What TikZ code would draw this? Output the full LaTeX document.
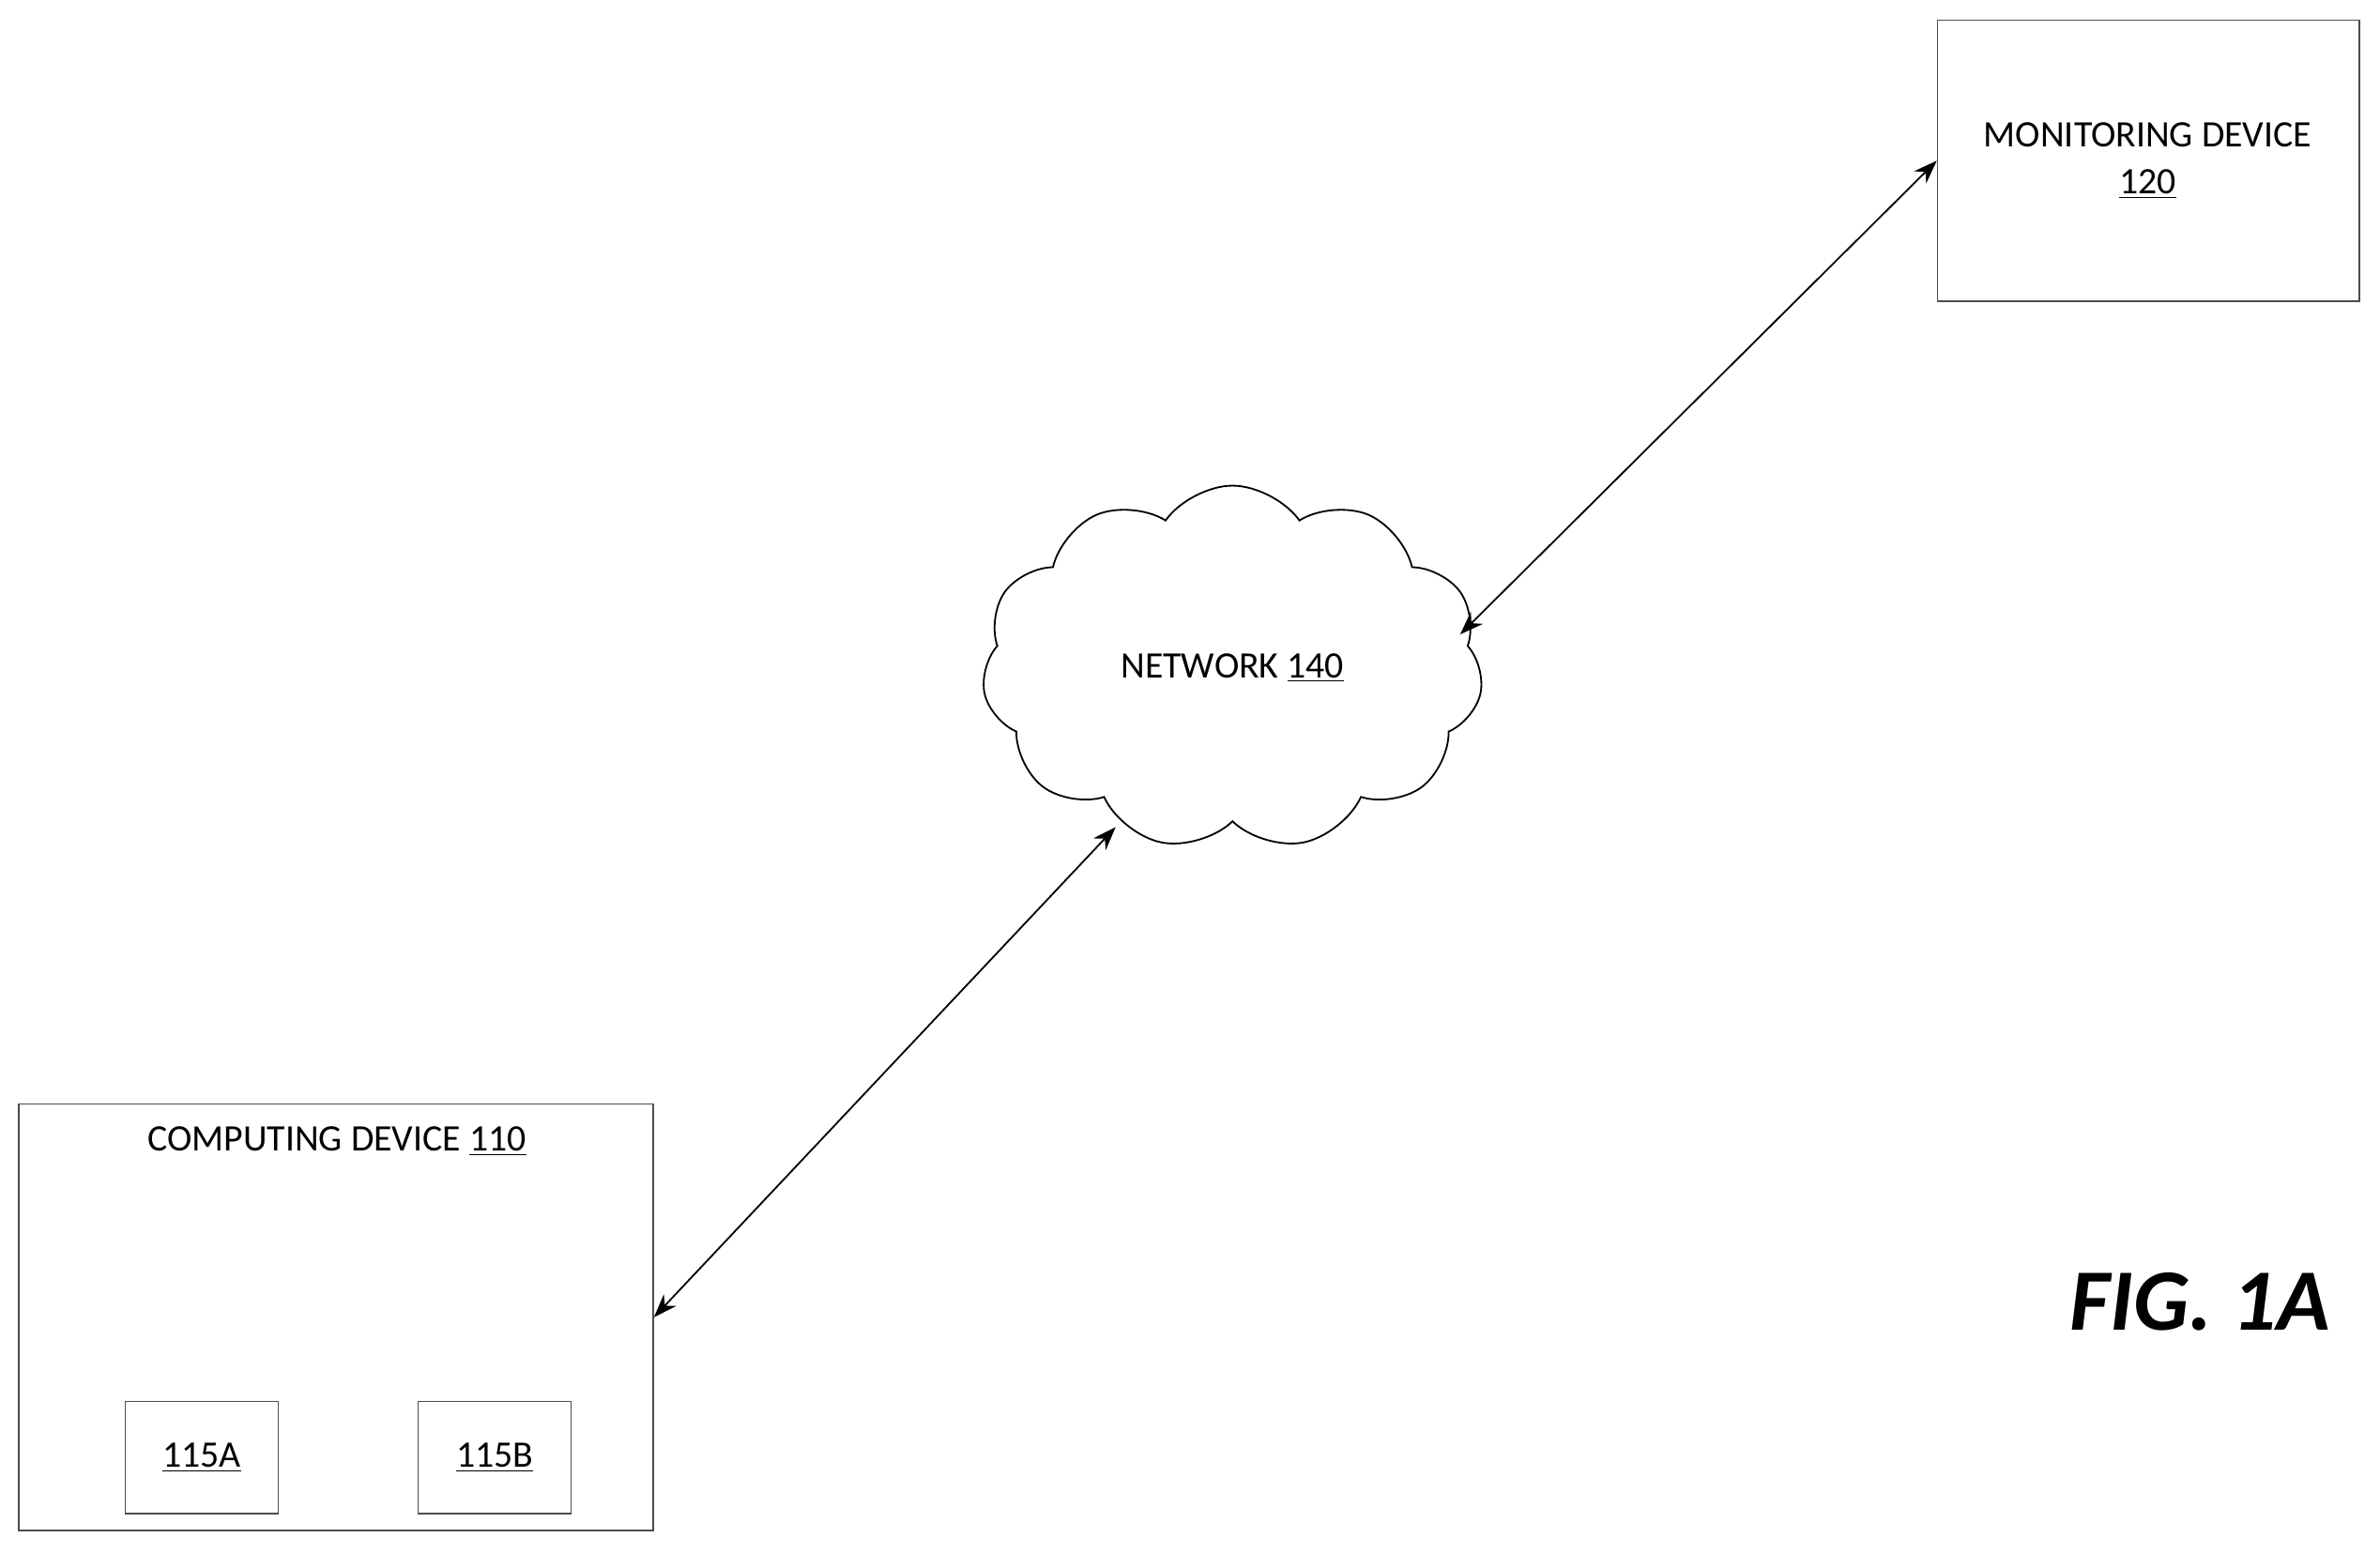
\documentclass[tikz,border=0pt]{standalone}
\usepackage{fontspec}
\setmainfont{Carlito}
\usetikzlibrary{positioning, arrows.meta, shapes.symbols}

\begin{document}
\begin{tikzpicture}[
    x=0.025cm, y=-0.025cm,
    font=\fontsize{17.5}{22}\selectfont,
    box/.style={ % plain device box
        rectangle,
        draw=black!70,
        line width=0.6pt,
        anchor=north west,
        inner sep=0pt
    },
    arrow/.style={
        {Stealth[length=11pt,width=8pt]}-{Stealth[length=11pt,width=8pt]},
        line width=0.8pt
    }
]
\useasboundingbox (0,0) rectangle (1568,1023);

% Monitoring device
\node[box, minimum width=278*0.025cm, minimum height=185*0.025cm] (mon) at (1276,13) {};
\node[align=center] (monlbl) at (1415,106) {MONITORING DEVICE\\\underline{120}};

% Network cloud
\node[cloud, cloud puffs=11, cloud puff arc=110, aspect=1.45, draw=black, line width=0.8pt,
      minimum width=330*0.025cm, minimum height=240*0.025cm] (net) at (812,440) {NETWORK \underline{140}};
\coordinate (netne) at (962,418);
\coordinate (netsw) at (735,545);

% Computing device
\node[box, minimum width=418*0.025cm, minimum height=281*0.025cm] (comp) at (12,727) {};
\node (complbl) at (222,752) {COMPUTING DEVICE \underline{110}};
\node[box, minimum width=101*0.025cm, minimum height=74*0.025cm] (subA) at (82,923) {};
\node (lblA) at (subA.center) {\underline{115A}};
\node[box, minimum width=101*0.025cm, minimum height=74*0.025cm] (subB) at (275,923) {};
\node (lblB) at (subB.center) {\underline{115B}};

% Links
\draw[arrow] (netne) -- (mon.west);
\draw[arrow] (comp.east) -- (netsw);

% Figure label
\node[anchor=east, font=\fontsize{41}{48}\selectfont\bfseries\itshape] (fig) at (1540,858) {FIG. 1A};

\end{tikzpicture}
\end{document}
